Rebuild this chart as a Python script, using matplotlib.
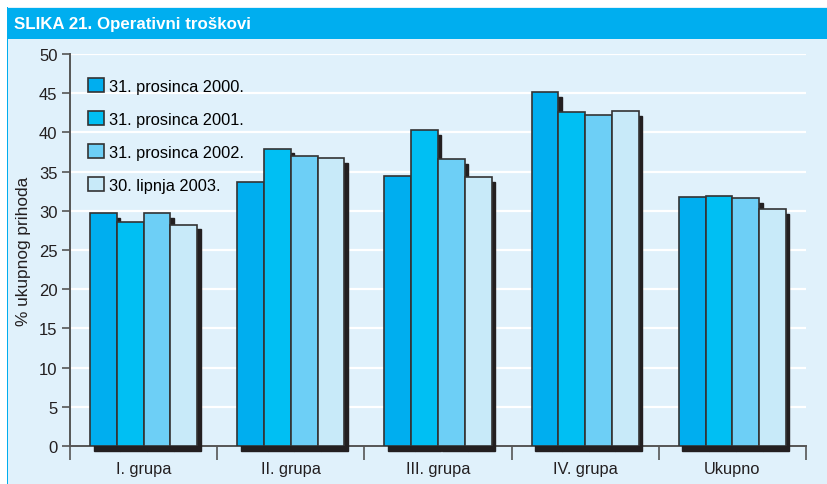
import matplotlib
matplotlib.use("Agg")
import matplotlib.pyplot as plt
from matplotlib.patches import Rectangle
import matplotlib.transforms as mtransforms
import numpy as np

plt.rcParams['font.family'] = ['Liberation Sans', 'DejaVu Sans']

title = "SLIKA 21. Operativni troškovi"
ylabel = "% ukupnog prihoda"
categories = ["I. grupa", "II. grupa", "III. grupa", "IV. grupa", "Ukupno"]
series_labels = ["31. prosinca 2000.", "31. prosinca 2001.", "31. prosinca 2002.", "30. lipnja 2003."]
s2000 = [29.7, 33.7, 34.4, 45.1, 31.8]
s2001 = [28.6, 37.9, 40.3, 42.6, 31.9]
s2002 = [29.7, 37.0, 36.6, 42.2, 31.6]
s2003 = [28.2, 36.7, 34.3, 42.7, 30.2]
series = [s2000, s2001, s2002, s2003]
colors = ["#00aeef", "#00bff3", "#6dcff6", "#c8eaf9"]
bg = "#e0f1fb"
band = "#00aeef"

W, H = 828, 485
fig = plt.figure(figsize=(W/100, H/100), dpi=100)
fig.patch.set_facecolor("white")
# background panel
fig.patches.append(Rectangle((8/W, 0), 1 - 8/W, 1 - 8/H, transform=fig.transFigure,
                             facecolor=bg, edgecolor='none', zorder=-10))
fig.patches.append(Rectangle((7/W, 0), 1.2/W, 1 - 8/H, transform=fig.transFigure,
                             facecolor=band, edgecolor='none', zorder=-9))
fig.patches.append(Rectangle((7/W, 1 - 40/H), 1 - 7/W, 31/H, transform=fig.transFigure,
                             facecolor=band, edgecolor='none', zorder=-9))
fig.text(14/W, 1 - 25/H, title, color='white', fontsize=12.2, fontweight='bold',
         va='center', ha='left')

ax = fig.add_axes([70/W, 1 - 447/H, (806 - 70)/W, (447 - 55)/H])
ax.set_facecolor('none')
ax.set_xlim(0, len(categories))
ax.set_ylim(0, 50)

x = np.arange(len(categories)) + 0.5
bw = 0.182
offsets = (np.arange(4) - 1.5) * bw
shadow_tr = mtransforms.offset_copy(ax.transData, fig=fig, x=3.5, y=-4.5, units='dots')

for i, (vals, col, lab) in enumerate(zip(series, colors, series_labels)):
    ax.bar(x + offsets[i], vals, bw, color='#231f20', edgecolor='#231f20', linewidth=1,
           transform=shadow_tr, zorder=2, clip_on=False)
for i, (vals, col, lab) in enumerate(zip(series, colors, series_labels)):
    ax.bar(x + offsets[i], vals, bw, color=col, edgecolor='#333333', linewidth=1.2,
           zorder=3, label=lab)

ax.set_yticks(np.arange(0, 51, 5))
ax.yaxis.grid(True, color='white', linewidth=1.6, zorder=1)
ax.set_axisbelow(True)
ax.set_xticks(np.arange(0, len(categories) + 1))
ax.set_xticklabels([])
ax.set_xticks(x, minor=True)
ax.set_xticklabels(categories, minor=True, fontsize=11.8, color='#231f20')
ax.tick_params(axis='x', which='minor', length=0, pad=11)
ax.tick_params(axis='x', which='major', length=10, width=1.2, color='#555555', direction='out')
ax.tick_params(axis='y', length=6, width=1.2, color='#555555', labelsize=12,
               labelcolor='#231f20', pad=3)
for s in ['top', 'right']:
    ax.spines[s].set_visible(False)
for s in ['left', 'bottom']:
    ax.spines[s].set_color('#555555')
    ax.spines[s].set_linewidth(1.4)
ax.spines['bottom'].set_zorder(1.5)

ax.set_ylabel(ylabel, fontsize=12.4, color='#231f20', labelpad=6)

leg = ax.legend(loc='upper left', bbox_to_anchor=(0.016, 0.955), frameon=False,
                fontsize=11.8, handlelength=0.95, handleheight=0.95, handletextpad=0.3,
                labelspacing=1.05, borderaxespad=0)
for h in leg.legend_handles:
    h.set_edgecolor('#333333')
    h.set_linewidth(1.2)

fig.savefig("out.png", dpi=100, facecolor=fig.get_facecolor())
